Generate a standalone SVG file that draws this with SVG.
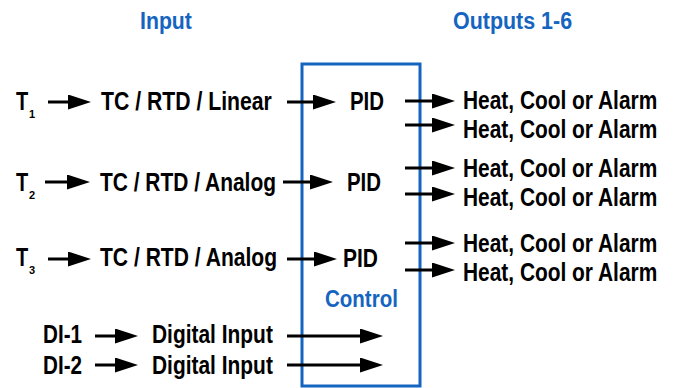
<svg xmlns="http://www.w3.org/2000/svg" width="677" height="388" viewBox="0 0 677 388">
<defs>
<marker id="ah" markerUnits="userSpaceOnUse" markerWidth="26" markerHeight="18" refX="13" refY="7.5" orient="auto">
<path d="M0,0 L23,7.5 L0,15 z" fill="#000"/>
</marker>
<style>
text{font-family:"Liberation Sans",Arial,sans-serif;font-weight:bold;font-size:25px;fill:#000}
.h{fill:#1565c0;font-size:24px}
.sub{font-size:11px}
.c line{stroke:#000;stroke-width:3;marker-end:url(#ah)}
</style>
</defs>
<rect width="677" height="388" fill="#fff"/>
<g id="headers">
<text class="h" transform="translate(140,29) scale(0.886,1)">Input</text>
<text class="h" transform="translate(453,29) scale(0.893,1)">Outputs 1-6</text>
</g>
<g id="control">
<rect x="302" y="64" width="118" height="322" fill="none" stroke="#1565c0" stroke-width="3"/>
<text class="h" transform="translate(325,307) scale(0.855,1)">Control</text>
</g>
<g id="t1"><text transform="translate(16,110) scale(0.8,1)">T</text><text class="sub" x="29" y="118">1</text></g>
<g id="t2"><text transform="translate(16,191) scale(0.8,1)">T</text><text class="sub" x="29" y="199">2</text></g>
<g id="t3"><text transform="translate(16,266) scale(0.8,1)">T</text><text class="sub" x="29" y="274">3</text></g>
<g id="in1"><text transform="translate(101,110) scale(0.849,1)">TC / RTD / Linear</text></g>
<g id="in2"><text transform="translate(100,191) scale(0.838,1)">TC / RTD / Analog</text></g>
<g id="in3"><text transform="translate(100,266) scale(0.843,1)">TC / RTD / Analog</text></g>
<g id="pid1"><text transform="translate(350,110) scale(0.816,1)">PID</text></g>
<g id="pid2"><text transform="translate(347,191) scale(0.816,1)">PID</text></g>
<g id="pid3"><text transform="translate(343,267) scale(0.84,1)">PID</text></g>
<g id="out1"><text transform="translate(463,109) scale(0.836,1)">Heat, Cool or Alarm</text></g>
<g id="out2"><text transform="translate(463,138) scale(0.836,1)">Heat, Cool or Alarm</text></g>
<g id="out3"><text transform="translate(463,177) scale(0.836,1)">Heat, Cool or Alarm</text></g>
<g id="out4"><text transform="translate(463,206) scale(0.836,1)">Heat, Cool or Alarm</text></g>
<g id="out5"><text transform="translate(463,252) scale(0.836,1)">Heat, Cool or Alarm</text></g>
<g id="out6"><text transform="translate(463,281) scale(0.836,1)">Heat, Cool or Alarm</text></g>
<g id="di1"><text transform="translate(43,343) scale(0.826,1)">DI-1</text></g>
<g id="di2"><text transform="translate(43,374) scale(0.826,1)">DI-2</text></g>
<g id="dig1"><text transform="translate(152,343) scale(0.837,1)">Digital Input</text></g>
<g id="dig2"><text transform="translate(152,374) scale(0.837,1)">Digital Input</text></g>
<g id="connectors" class="c">
<line x1="48" y1="102" x2="81" y2="102"/>
<line x1="45" y1="182" x2="80" y2="182"/>
<line x1="48" y1="259" x2="81" y2="259"/>
<line x1="287" y1="102" x2="326" y2="102"/>
<line x1="283" y1="182" x2="323" y2="182"/>
<line x1="287" y1="259" x2="327" y2="259"/>
<line x1="405" y1="101" x2="445" y2="101"/>
<line x1="405" y1="125" x2="445" y2="125"/>
<line x1="405" y1="168" x2="445" y2="168"/>
<line x1="405" y1="194" x2="445" y2="194"/>
<line x1="405" y1="243" x2="445" y2="243"/>
<line x1="405" y1="270" x2="445" y2="270"/>
<line x1="95" y1="336" x2="128" y2="336"/>
<line x1="95" y1="365" x2="128" y2="365"/>
<line x1="287" y1="336" x2="373" y2="336"/>
<line x1="287" y1="365" x2="373" y2="365"/>
</g>
</svg>
